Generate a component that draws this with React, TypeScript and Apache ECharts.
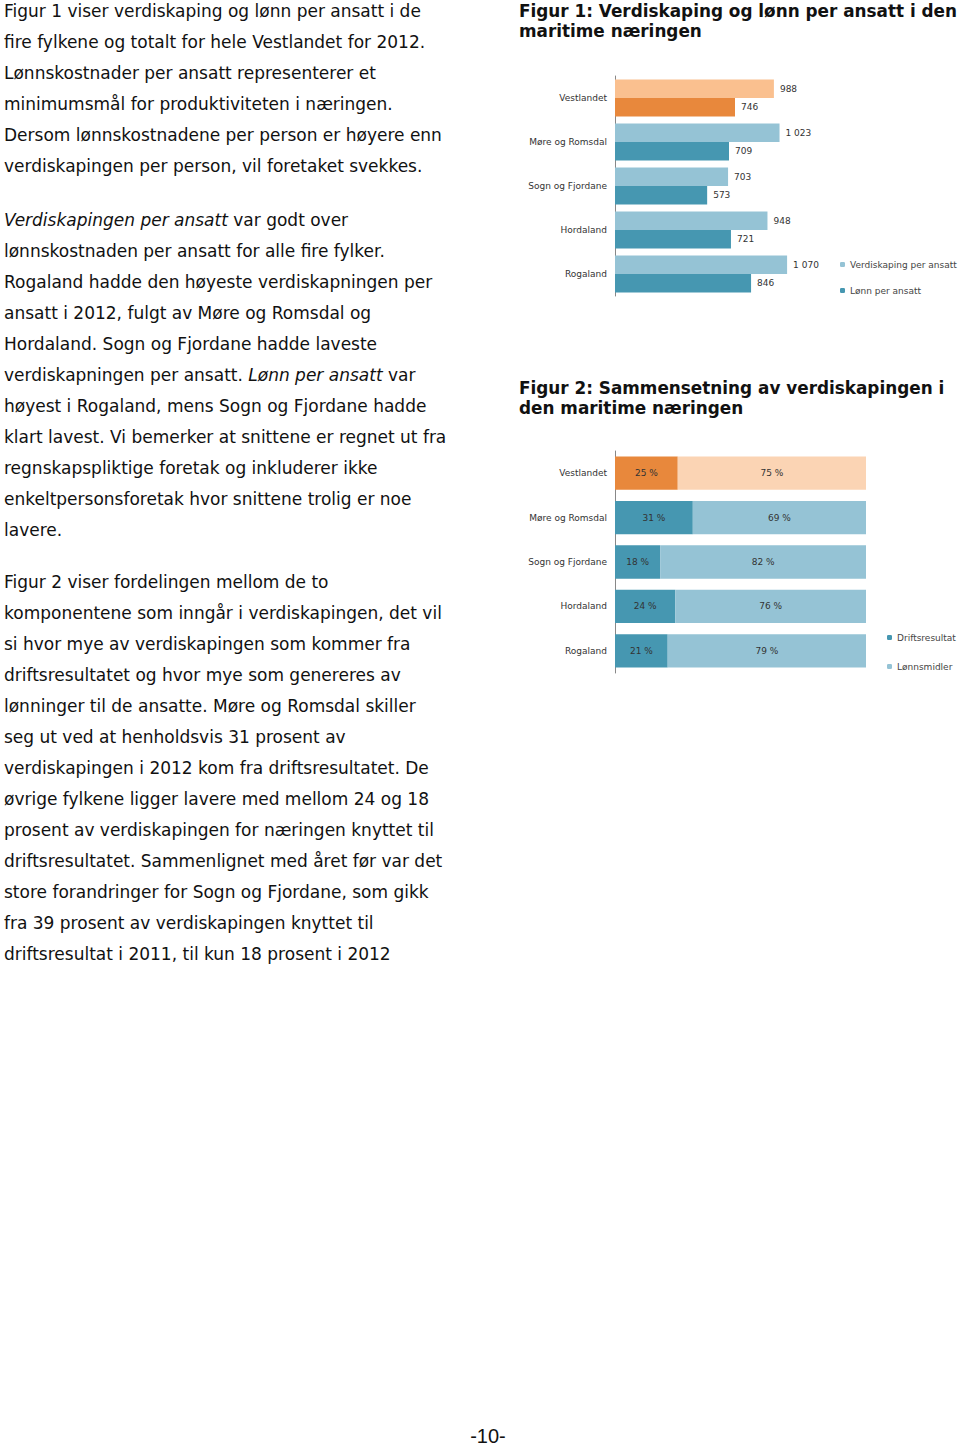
import React, { useEffect, useRef } from "react";
import * as echarts from "echarts";

const categories = ["Vestlandet", "Møre og Romsdal", "Sogn og Fjordane", "Hordaland", "Rogaland"];
const verdiskaping = [988, 1023, 703, 948, 1070];
const lonn = [746, 709, 573, 721, 846];
const driftsresultat = [25, 31, 18, 24, 21];
const lonnsmidler = [75, 69, 82, 76, 79];

const LIGHT_BLUE = "#95C3D5";
const DARK_TEAL = "#4697B1";
const LIGHT_ORANGE = "#FAC08F";
const DARK_ORANGE = "#E8883C";
const LIGHT_ORANGE2 = "#FBD4B4";

const labelFont = "DejaVu Sans";

function Chart1() {
  const ref = useRef<HTMLDivElement>(null);
  useEffect(() => {
    const chart = echarts.init(ref.current!, null, { renderer: "svg" });
    chart.setOption({
      animation: false,
      grid: { left: 100, top: 11, width: 193, height: 220 },
      legend: {
        orient: "vertical",
        left: 320,
        top: 190,
        itemWidth: 5,
        itemHeight: 5,
        itemGap: 17,
        textStyle: { fontSize: 9, color: "#444", fontFamily: labelFont },
        data: [
          { name: "Verdiskaping per ansatt", itemStyle: { color: LIGHT_BLUE } },
          { name: "Lønn per ansatt", itemStyle: { color: DARK_TEAL } },
        ],
      },
      xAxis: { type: "value", min: 0, max: 1200, show: false },
      yAxis: {
        type: "category",
        inverse: true,
        data: categories,
        axisLine: { lineStyle: { color: "#888" } },
        axisTick: { length: 3, lineStyle: { color: "#888" } },
        axisLabel: { fontSize: 9, color: "#333", fontFamily: labelFont, margin: 8 },
      },
      series: [
        {
          name: "Verdiskaping per ansatt",
          type: "bar",
          barCategoryGap: "16%",
          barGap: "0%",
          itemStyle: { color: LIGHT_BLUE },
          data: verdiskaping.map((v, i) =>
            i === 0 ? { value: v, itemStyle: { color: LIGHT_ORANGE } } : v
          ),
          label: {
            show: true,
            position: "right",
            distance: 6,
            fontSize: 9,
            color: "#333",
            fontFamily: labelFont,
            formatter: (p: any) => String(p.value).replace(/\B(?=(\d{3})+(?!\d))/g, " "),
          },
        },
        {
          name: "Lønn per ansatt",
          type: "bar",
          barCategoryGap: "16%",
          barGap: "0%",
          itemStyle: { color: DARK_TEAL },
          data: lonn.map((v, i) =>
            i === 0 ? { value: v, itemStyle: { color: DARK_ORANGE } } : v
          ),
          label: {
            show: true,
            position: "right",
            distance: 6,
            fontSize: 9,
            color: "#333",
            fontFamily: labelFont,
          },
        },
      ],
    });
    return () => chart.dispose();
  }, []);
  return <div ref={ref} style={{ position: "absolute", left: 515, top: 65, width: 445, height: 240 }} />;
}

function Chart2() {
  const ref = useRef<HTMLDivElement>(null);
  useEffect(() => {
    const chart = echarts.init(ref.current!, null, { renderer: "svg" });
    const lbl = {
      show: true,
      position: "inside",
      fontSize: 9,
      color: "#333",
      fontFamily: labelFont,
      formatter: (p: any) => p.value + " %",
    };
    chart.setOption({
      animation: false,
      grid: { left: 100, top: 11, width: 251, height: 222 },
      legend: {
        orient: "vertical",
        left: 367,
        top: 188,
        itemWidth: 5,
        itemHeight: 5,
        itemGap: 20,
        textStyle: { fontSize: 9, color: "#444", fontFamily: labelFont },
        data: [
          { name: "Driftsresultat", itemStyle: { color: DARK_TEAL } },
          { name: "Lønnsmidler", itemStyle: { color: LIGHT_BLUE } },
        ],
      },
      xAxis: { type: "value", min: 0, max: 100, show: false },
      yAxis: {
        type: "category",
        inverse: true,
        data: categories,
        axisLine: { lineStyle: { color: "#888" } },
        axisTick: { length: 3, lineStyle: { color: "#888" } },
        axisLabel: { fontSize: 9, color: "#333", fontFamily: labelFont, margin: 8 },
      },
      series: [
        {
          name: "Driftsresultat",
          type: "bar",
          stack: "total",
          barCategoryGap: "25%",
          itemStyle: { color: DARK_TEAL },
          data: driftsresultat.map((v, i) =>
            i === 0 ? { value: v, itemStyle: { color: DARK_ORANGE } } : v
          ),
          label: lbl,
        },
        {
          name: "Lønnsmidler",
          type: "bar",
          stack: "total",
          barCategoryGap: "25%",
          itemStyle: { color: LIGHT_BLUE },
          data: lonnsmidler.map((v, i) =>
            i === 0 ? { value: v, itemStyle: { color: LIGHT_ORANGE2 } } : v
          ),
          label: lbl,
        },
      ],
    });
    return () => chart.dispose();
  }, []);
  return <div ref={ref} style={{ position: "absolute", left: 515, top: 440, width: 445, height: 240 }} />;
}

const bodyStyle: React.CSSProperties = {
  position: "absolute",
  left: 4,
  fontFamily: "'DejaVu Sans', Verdana, sans-serif",
  fontSize: 17,
  lineHeight: "31px",
  color: "#111",
  whiteSpace: "nowrap",
};

const titleStyle: React.CSSProperties = {
  position: "absolute",
  left: 519,
  fontFamily: "'DejaVu Sans', Verdana, sans-serif",
  fontWeight: "bold",
  fontSize: 16.85,
  lineHeight: "20px",
  color: "#111",
  whiteSpace: "nowrap",
};

export default function App() {
  return (
    <div style={{ position: "absolute", left: 0, top: 0, width: 960, height: 1446, background: "#fff", overflow: "hidden" }}>
      <div style={{ ...bodyStyle, top: -4 }}>
        Figur 1 viser verdiskaping og lønn per ansatt i de<br />
        fire fylkene og totalt for hele Vestlandet for 2012.<br />
        Lønnskostnader per ansatt representerer et<br />
        minimumsmål for produktiviteten i næringen.<br />
        Dersom lønnskostnadene per person er høyere enn<br />
        verdiskapingen per person, vil foretaket svekkes.
      </div>
      <div style={{ ...bodyStyle, top: 204.5 }}>
        <i>Verdiskapingen per ansatt</i> var godt over<br />
        lønnskostnaden per ansatt for alle fire fylker.<br />
        Rogaland hadde den høyeste verdiskapningen per<br />
        ansatt i 2012, fulgt av Møre og Romsdal og<br />
        Hordaland. Sogn og Fjordane hadde laveste<br />
        verdiskapningen per ansatt. <i>Lønn per ansatt</i> var<br />
        høyest i Rogaland, mens Sogn og Fjordane hadde<br />
        klart lavest. Vi bemerker at snittene er regnet ut fra<br />
        regnskapspliktige foretak og inkluderer ikke<br />
        enkeltpersonsforetak hvor snittene trolig er noe<br />
        lavere.
      </div>
      <div style={{ ...bodyStyle, top: 566.5 }}>
        Figur 2 viser fordelingen mellom de to<br />
        komponentene som inngår i verdiskapingen, det vil<br />
        si hvor mye av verdiskapingen som kommer fra<br />
        driftsresultatet og hvor mye som genereres av<br />
        lønninger til de ansatte. Møre og Romsdal skiller<br />
        seg ut ved at henholdsvis 31 prosent av<br />
        verdiskapingen i 2012 kom fra driftsresultatet. De<br />
        øvrige fylkene ligger lavere med mellom 24 og 18<br />
        prosent av verdiskapingen for næringen knyttet til<br />
        driftsresultatet. Sammenlignet med året før var det<br />
        store forandringer for Sogn og Fjordane, som gikk<br />
        fra 39 prosent av verdiskapingen knyttet til<br />
        driftsresultat i 2011, til kun 18 prosent i 2012
      </div>
      <div style={{ ...titleStyle, top: 1 }}>
        Figur 1: Verdiskaping og lønn per ansatt i den<br />
        maritime næringen
      </div>
      <div style={{ ...titleStyle, top: 378 }}>
        Figur 2: Sammensetning av verdiskapingen i<br />
        den maritime næringen
      </div>
      <Chart1 />
      <Chart2 />
      <div
        style={{
          position: "absolute",
          left: 0,
          width: 976,
          top: 1424,
          textAlign: "center",
          fontFamily: "'Liberation Sans', Arial, sans-serif",
          fontSize: 20,
          lineHeight: "24px",
          color: "#111",
        }}
      >
        -10-
      </div>
    </div>
  );
}
